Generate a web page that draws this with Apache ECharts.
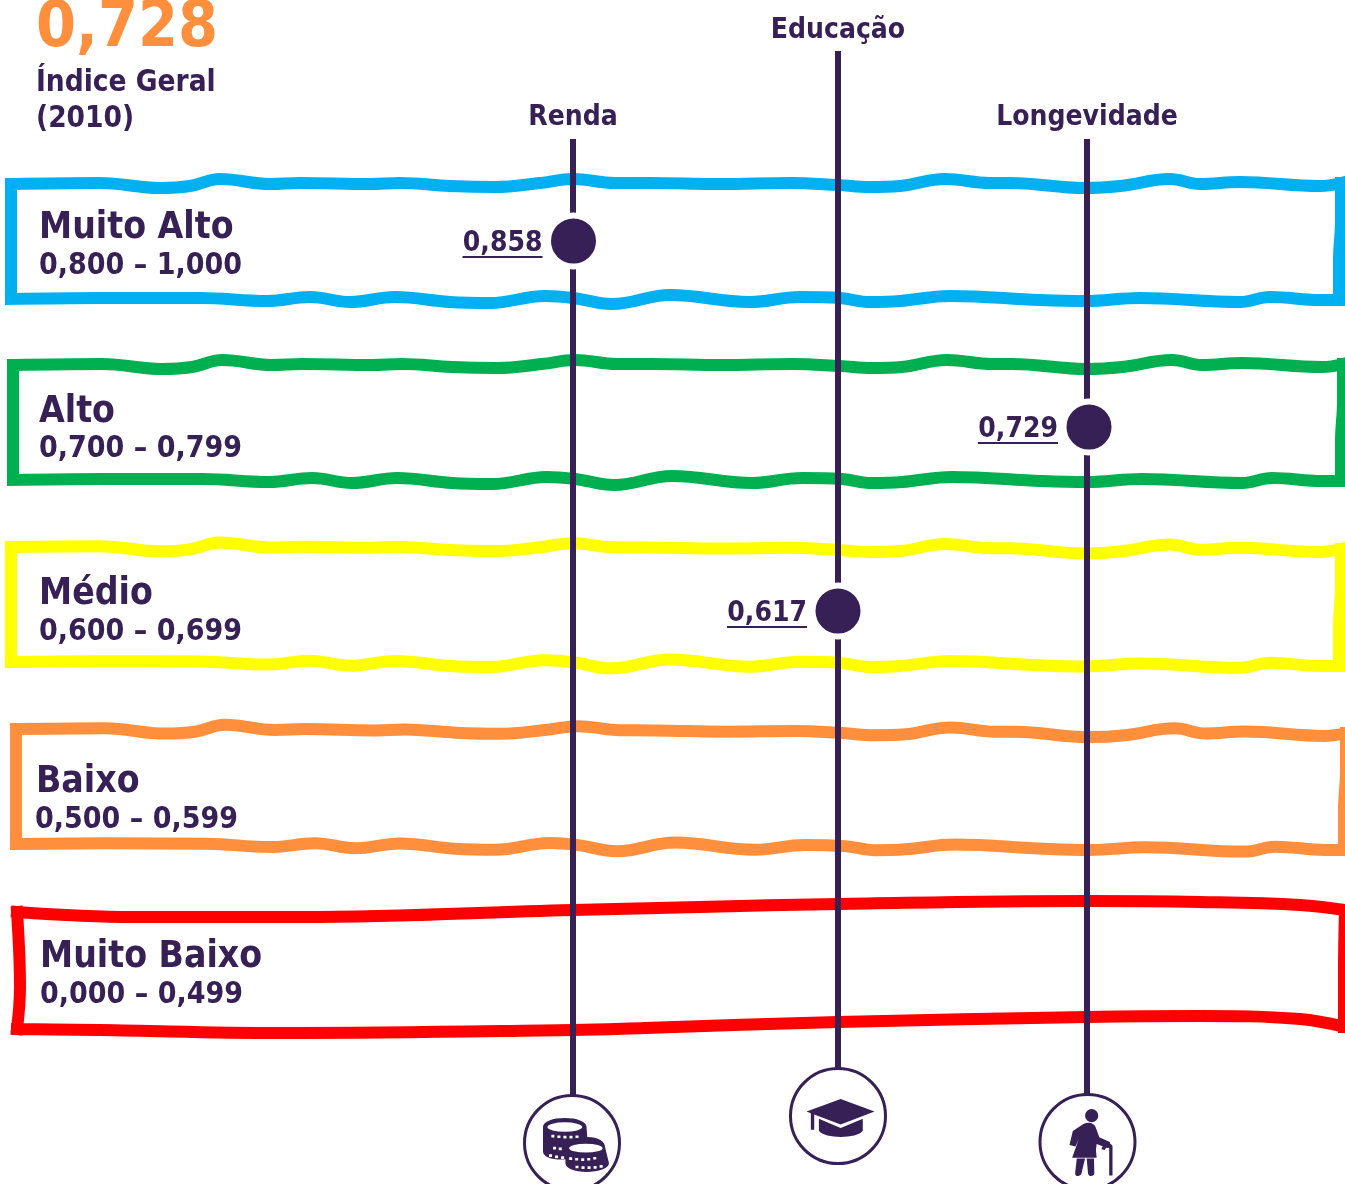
<!DOCTYPE html>
<html>
<head>
<meta charset="utf-8">
<script src="https://cdn.jsdelivr.net/npm/echarts@6/dist/echarts.min.js"></script>
<style>
  html, body { margin: 0; padding: 0; background: #fff; }
  #chart { width: 1345px; height: 1184px; }
</style>
</head>
<body>
<div id="chart"></div>
<script>
// Data
const overallValue = '0,728';
const overallLabel = ['Índice Geral', '(2010)'];
const bandNames = ['Muito Alto', 'Alto', 'Médio', 'Baixo', 'Muito Baixo'];
const bandRanges = ['0,800 – 1,000', '0,700 – 0,799', '0,600 – 0,699', '0,500 – 0,599', '0,000 – 0,499'];
const dimensions = ['Renda', 'Educação', 'Longevidade'];
const dimensionValues = ['0,858', '0,617', '0,729'];
const dimensionBand = [0, 2, 1]; // index into bandNames

// Layout, in chart pixels
const PURPLE = '#362055';
const FONT = '"DejaVu Sans Condensed", "DejaVu Sans", sans-serif';
const bandColors = ['#00b0f0', '#00b050', '#ffff00', '#ff8f3c', '#ff0000'];
const bandCenterY = [241, 427, 611];
const bandNameAt = [[39, 228], [39, 412], [39, 594], [36, 782], [40, 957]];
const bandRangeAt = [[39, 266], [39, 449], [39, 632], [35, 820], [40, 995]];
const lineX = [573, 838, 1087];
const lineTop = [139, 51, 139];
const lineBottom = [1097, 1069, 1095];
const dotX = [573.5, 838, 1089];
const headerY = [118, 31, 118];
const badgeAt = [[572, 1143], [838, 1116], [1087.5, 1142]];
const iconAt = [[576, 1145], [840.5, 1118], [1091, 1142.5]];
const iconSize = [[66, 54], [68, 38], [43, 67]];

// The four wavy frames are one hand drawn shape moved down the page
const waveTop = [[11, 184], [100, 183], [160, 188], [190, 186], [220, 179], [270, 184], [300, 183], [370, 184], [400, 183], [450, 186], [495, 187], [540, 183], [573, 179], [615, 183], [650, 183], [720, 184], [790, 183], [838, 185], [870, 187], [900, 186], [945, 179], [990, 183], [1010, 183], [1085, 188], [1120, 186], [1170, 179], [1200, 184], [1240, 182], [1320, 186], [1341, 183]];
const waveBottom = [[11, 299], [100, 298], [200, 298], [267, 301], [310, 297], [350, 302], [395, 297], [450, 302], [490, 303], [545, 296], [573, 298], [612, 304], [670, 295], [750, 302], [800, 297], [840, 298], [870, 302], [900, 301], [950, 296], [1040, 300], [1085, 301], [1140, 298], [1240, 302], [1270, 297], [1320, 300], [1341, 300]];
const waveRight = [[1341, 183], [1341, 220], [1339, 260], [1339, 300]];
const waveLeft = [[11, 184], [11, 240], [11, 299]];
// dx, dy, and how much lower the shape sits at its right end
const frameOffset = [[0, 0, 0], [2, 181, 0], [0, 363, 3], [5, 545, 5]];

// The bottom frame is a smooth bent ribbon
const redTop = [[17, 912], [134, 917], [300, 917], [573, 910], [700, 907], [838, 904], [1087, 901], [1200, 902], [1300, 905], [1345, 910]];
const redBottom = [[17, 1029], [100, 1030], [280, 1033], [573, 1030], [645, 1028], [838, 1022], [1087, 1017], [1200, 1016], [1300, 1019], [1345, 1027]];
const redLeft = [[17, 912], [20, 987], [17, 1029]];
const redRight = [[1345, 910], [1344, 970], [1344, 1027]];

const coinsIcon = 'path://M100 232C100 215 130 205 165 205C200 205 230 215 230 232L232 262C265 262 286 275 286 295L297 340C297 355 265 366 230 366C195 366 167 355 167 340L167 328C140 332 100 325 100 305Z'
  + 'M113 232A52 14 0 1 0 217 232A52 14 0 1 0 113 232Z'
  + 'M178 295A50 13 0 1 0 278 295A50 13 0 1 0 178 295Z'
  + 'M125 255v8h9v-8zM143 257v8h9v-8zM161 258v8h9v-8zM179 258v8h9v-8zM197 257v8h9v-8z'
  + 'M130 291v8h9v-8zM147 293v8h9v-8z'
  + 'M118 313v8h9v-8zM136 317v8h9v-8zM154 319v8h9v-8z'
  + 'M178 322v8h9v-8zM196 324v8h9v-8zM214 325v8h9v-8zM232 324v8h9v-8zM250 321v8h9v-8z'
  + 'M197 347v8h9v-8zM215 349v8h9v-8zM233 349v8h9v-8zM251 348v8h9v-8zM269 345v8h9v-8z';
const capIcon = 'path://M80 184L182 148L283 184L182 222L103 193L103 237L93 237L93 189Z'
  + 'M117 205L182 232L248 205L248 240C230 264 135 264 117 240Z';
const personIcon = 'path://M165 197A20 20 0 1 1 205 197A20 20 0 1 1 165 197Z'
  + 'M128 243L160 222C178 214 194 220 198 234L208 262L240 276L243 292L232 294L200 282L198 300L200 324L126 324L146 268L136 290L118 285Z'
  + 'M140 326L165 326L154 372C151 381 134 381 135 370Z'
  + 'M170 326L192 326L193 372C191 381 175 381 174 370Z'
  + 'M215 298C216 282 240 274 248 288L248 377L238 377L238 295C235 290 227 291 225 300Z';
const icons = [coinsIcon, capIcon, personIcon];

// Helpers
const moved = (pts, [dx, dy, tilt]) => pts.map(([x, y]) => [x + dx, y + dy + tilt * x / 1345]);
const GAP = ['-', '-'];

function frameSeries(parts, color) {
  const data = [];
  parts.forEach((part, i) => {
    if (i) data.push(GAP);
    data.push(...part);
  });
  return {
    type: 'line', data, smooth: 0.4, showSymbol: false, silent: true, z: 2,
    lineStyle: { color, width: 12, cap: 'square', join: 'miter' }
  };
}

const textPoint = (name, at, fontSize, color, align) => ({
  name, value: at, label: { formatter: name, fontSize, color, align }
});

const series = [];

// Frames
frameOffset.forEach((off, i) => {
  series.push(frameSeries([waveTop, waveBottom, waveLeft, waveRight].map((p) => moved(p, off)), bandColors[i]));
});
series.push(frameSeries([redTop, redBottom, redLeft, redRight], bandColors[4]));

// Vertical lines
dimensions.forEach((d, i) => {
  series.push({
    type: 'line', data: [[lineX[i], lineTop[i]], [lineX[i], lineBottom[i]]],
    showSymbol: false, silent: true, z: 3,
    lineStyle: { color: PURPLE, width: 6, cap: 'butt' }
  });
});

// Dots with a white ring cut out of the line
series.push({
  type: 'scatter', z: 4, silent: true, clip: false,
  data: dimensions.map((d, i) => [dotX[i], bandCenterY[dimensionBand[i]]]),
  symbol: 'circle', symbolSize: 51,
  itemStyle: { color: PURPLE, borderColor: '#fff', borderWidth: 6, opacity: 1 }
});

// Values with underline
series.push({
  type: 'custom', z: 5, silent: true, clip: false,
  data: dimensions.map((d, i) => [dotX[i] - 31, bandCenterY[dimensionBand[i]], i]),
  renderItem: (params, api) => {
    const [x, y] = api.coord([api.value(0), api.value(1)]);
    return {
      type: 'group',
      children: [
        { type: 'text', style: { x, y: y + 3, text: dimensionValues[api.value(2)], align: 'right', verticalAlign: 'middle', font: `bold 28px ${FONT}`, fill: PURPLE } },
        { type: 'line', shape: { x1: x - 80, y1: y + 16, x2: x, y2: y + 16 }, style: { stroke: PURPLE, lineWidth: 2 } }
      ]
    };
  }
});

// Badges at the foot of the lines
series.push({
  type: 'scatter', z: 3, silent: true, clip: false,
  data: badgeAt, symbol: 'circle', symbolSize: 95,
  itemStyle: { color: '#fff', borderColor: PURPLE, borderWidth: 3, opacity: 1 }
});
icons.forEach((icon, i) => {
  series.push({
    type: 'scatter', z: 4, silent: true, clip: false,
    data: [iconAt[i]], symbol: icon, symbolSize: iconSize[i],
    itemStyle: { color: PURPLE, opacity: 1 }
  });
});

// All the plain text, placed through the same scales
const texts = [];
texts.push(textPoint(overallValue, [36, 29], 64, '#ff8f3c', 'left'));
overallLabel.forEach((t, i) => texts.push(textPoint(t, [36, [83, 119][i]], 29.5, PURPLE, 'left')));
bandNames.forEach((t, i) => texts.push(textPoint(t, bandNameAt[i], 37, PURPLE, 'left')));
bandRanges.forEach((t, i) => texts.push(textPoint(t, bandRangeAt[i], 30, PURPLE, 'left')));
dimensions.forEach((t, i) => texts.push(textPoint(t, [lineX[i], headerY[i]], 28, PURPLE, 'center')));
series.push({
  type: 'scatter', z: 6, silent: true, clip: false,
  data: texts, symbolSize: 1, itemStyle: { color: 'transparent', opacity: 1 },
  label: { show: true, position: 'inside', verticalAlign: 'middle', fontWeight: 'bold', fontFamily: FONT }
});

const chart = echarts.init(document.getElementById('chart'), null, { renderer: 'canvas' });
chart.setOption({
  animation: false,
  backgroundColor: '#fff',
  grid: { left: 0, right: 0, top: 0, bottom: 0 },
  xAxis: { type: 'value', min: 0, max: 1345, show: false },
  yAxis: { type: 'value', min: 0, max: 1184, inverse: true, show: false },
  series
});
</script>
</body>
</html>
